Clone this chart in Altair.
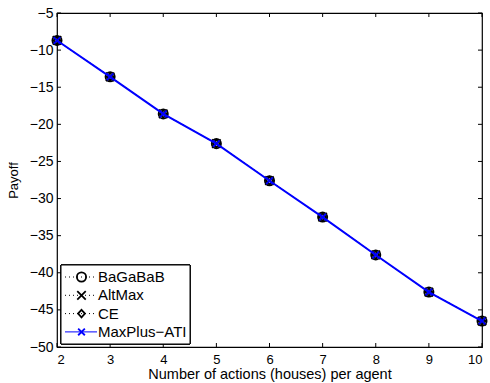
import altair as alt
import pandas as pd

# ---- data ----
actions = [2, 3, 4, 5, 6, 7, 8, 9, 10]
bagabab = [-8.7, -13.6, -18.6, -22.6, -27.6, -32.5, -37.6, -42.6, -46.5]
altmax = [-8.7, -13.6, -18.6, -22.6, -27.6, -32.5, -37.6, -42.6, -46.5]
ce = [-8.7, -13.6, -18.6, -22.6, -27.6, -32.5, -37.6, -42.6, -46.5]
maxplus = [-8.7, -13.6, -18.6, -22.6, -27.6, -32.5, -37.6, -42.6, -46.5]

series_names = ["BaGaBaB", "AltMax", "CE", "MaxPlus\u2212ATI"]
series_values = [bagabab, altmax, ce, maxplus]

x_ticks = [2, 3, 4, 5, 6, 7, 8, 9, 10]
y_ticks = [-50, -45, -40, -35, -30, -25, -20, -15, -10, -5]

W, H = 425, 334
FONT = "Liberation Sans"
XPATH = "M-1,-1L1,1M1,-1L-1,1"
DPATH = "M0,-1L0.9,0L0,1L-0.9,0Z"

rows = []
for name, vals in zip(series_names, series_values):
    for a, v in zip(actions, vals):
        rows.append({"actions": a, "payoff": v, "series": name})
df = pd.DataFrame(rows)

leg_df = pd.DataFrame({"series": series_names, "idx": list(range(len(series_names)))})

shape_scale = alt.Scale(domain=series_names, range=["circle", XPATH, DPATH, XPATH])
size_scale = alt.Scale(domain=series_names, range=[85, 45, 121, 45])
color_scale = alt.Scale(domain=series_names, range=["black", "black", "black", "#0000ff"])
dash_scale = alt.Scale(domain=series_names, range=[[1, 3], [1, 3], [1, 3], [1, 0]])
lw_scale = alt.Scale(domain=series_names, range=[1, 1, 1, 1.8])

xs = alt.Scale(domain=[2, 10], nice=False)
ys = alt.Scale(domain=[-50, -5], nice=False)

x_axis = alt.Axis(values=x_ticks, title="Number of actions (houses) per agent",
                  grid=False, ticks=False, domain=False, labelPadding=6,
                  labelOverlap=False, labelFontSize=13, titleFontSize=14.5,
                  titlePadding=1, labelColor="black", titleColor="black",
                  titleFontWeight="normal", labelFont=FONT, titleFont=FONT)
y_axis = alt.Axis(values=y_ticks, title="Payoff", grid=False, ticks=False,
                  domain=False, labelPadding=4, labelOverlap=False,
                  labelFontSize=14, titleFontSize=13, titlePadding=9,
                  labelColor="black", titleColor="black",
                  titleFontWeight="normal", labelFont=FONT, titleFont=FONT)


def X(f):
    return alt.X(f, scale=xs, axis=x_axis)


def Y(f):
    return alt.Y(f, scale=ys, axis=y_axis)


black_df = df[df.series != series_names[3]]
blue_df = df[df.series == series_names[3]]

dotted = alt.Chart(black_df).mark_line(strokeWidth=1, color="black", strokeDash=[1, 3]).encode(
    x=X("actions:Q"), y=Y("payoff:Q"), detail="series:N")

black_pts = alt.Chart(black_df).mark_point(filled=False, strokeWidth=1.8, opacity=1).encode(
    x=X("actions:Q"), y=Y("payoff:Q"),
    shape=alt.Shape("series:N", scale=shape_scale, legend=None),
    size=alt.Size("series:N", scale=size_scale, legend=None),
    color=alt.Color("series:N", scale=color_scale, legend=None))

blue_line = alt.Chart(blue_df).mark_line(strokeWidth=2, color="#0000ff").encode(
    x=X("actions:Q"), y=Y("payoff:Q"))

blue_pts = alt.Chart(blue_df).mark_point(filled=False, strokeWidth=1.8, opacity=1).encode(
    x=X("actions:Q"), y=Y("payoff:Q"),
    shape=alt.Shape("series:N", scale=shape_scale, legend=None),
    size=alt.Size("series:N", scale=size_scale, legend=None),
    color=alt.Color("series:N", scale=color_scale, legend=None))

# inward ticks on all four sides
xt = pd.DataFrame({"actions": x_ticks})
yt = pd.DataFrame({"payoff": y_ticks})
tick_bottom = alt.Chart(xt).mark_rule(color="black", strokeWidth=1).encode(
    x=X("actions:Q"), y=alt.value(H), y2=alt.value(H - 4))
tick_top = alt.Chart(xt).mark_rule(color="black", strokeWidth=1).encode(
    x=X("actions:Q"), y=alt.value(0), y2=alt.value(4))
tick_left = alt.Chart(yt).mark_rule(color="black", strokeWidth=1).encode(
    y=Y("payoff:Q"), x=alt.value(0), x2=alt.value(4))
tick_right = alt.Chart(yt).mark_rule(color="black", strokeWidth=1).encode(
    y=Y("payoff:Q"), x=alt.value(W), x2=alt.value(W - 4))

# legend box (manual, matlab-style)
leg_box = alt.Chart(leg_df).mark_rect(fill="white", stroke="black", strokeWidth=1).encode(
    x=alt.value(4), x2=alt.value(133), y=alt.value(252), y2=alt.value(331))

# legend rows placed in data units of the shared y scale
leg_base = alt.Chart(leg_df).transform_calculate(
    payoff=f"-5 - (264 + datum.idx * 18.3) * 45 / {H}")
leg_lines = leg_base.mark_rule().encode(
    x=alt.value(8), x2=alt.value(40), y=Y("payoff:Q"),
    color=alt.Color("series:N", scale=color_scale, legend=None),
    strokeDash=alt.StrokeDash("series:N", scale=dash_scale, legend=None),
    strokeWidth=alt.StrokeWidth("series:N", scale=lw_scale, legend=None))
leg_pts = leg_base.mark_point(filled=False, strokeWidth=1.8, opacity=1).encode(
    x=alt.value(24.5), y=Y("payoff:Q"),
    shape=alt.Shape("series:N", scale=shape_scale, legend=None),
    size=alt.Size("series:N", scale=size_scale, legend=None),
    color=alt.Color("series:N", scale=color_scale, legend=None))
leg_text = leg_base.mark_text(align="left", baseline="middle", fontSize=15,
                              font=FONT, color="black").encode(
    x=alt.value(41), y=Y("payoff:Q"), text="series:N")

chart = alt.layer(
    dotted, black_pts, blue_line, blue_pts,
    tick_bottom, tick_top, tick_left, tick_right,
    leg_box, leg_lines, leg_pts, leg_text
).properties(
    width=W, height=H,
    autosize=alt.AutoSizeParams(type="none"),
    padding={"left": 57, "top": 13, "right": 8, "bottom": 36},
    background="white",
).configure_view(stroke="black", strokeWidth=1.2)

chart.save("out.html", embed_options={"renderer": "svg", "actions": False})
